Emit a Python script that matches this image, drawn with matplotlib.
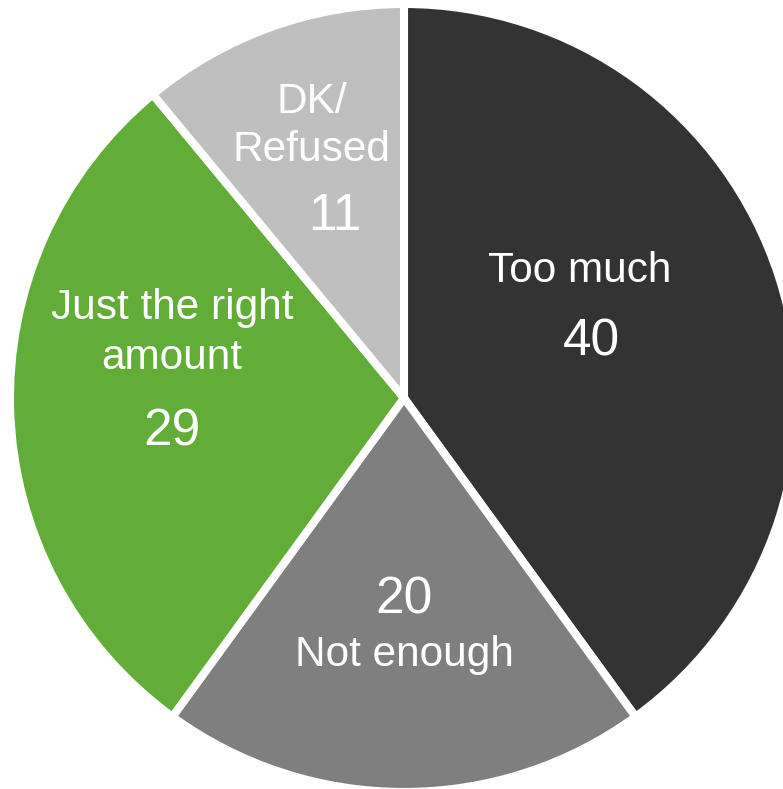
import matplotlib.pyplot as plt

plt.rcParams['font.family'] = ['Liberation Sans', 'DejaVu Sans']

# Data
categories = ["Too much", "Not enough", "Just the right\namount", "DK/\nRefused"]
values = [40, 20, 29, 11]
colors = ["#333333", "#7f7f7f", "#62ad38", "#bfbfbf"]

W, H = 783, 789
CX, CY, R = 404, 398, 394  # pie centre / radius in pixels


def px(x, y):
    # pixel position (from top-left) -> data coords of the pie
    return (x - CX) / R, (CY - y) / R


fig = plt.figure(figsize=(W / 100, H / 100), dpi=100)
ax = fig.add_axes([0, 0, 1, 1])
ax.pie(values, colors=colors, startangle=90, counterclock=False, radius=1,
       wedgeprops=dict(edgecolor="white", linewidth=5.8))
ax.set_xlim(-CX / R, (W - CX) / R)
ax.set_ylim(-(H - CY) / R, CY / R)
ax.set_aspect("equal")
ax.axis("off")

txt = dict(color="white", ha="center", va="center")
lab_fs, num_fs = 30.5, 37
# Too much
ax.text(*px(580, 271), categories[0], fontsize=lab_fs, **txt)
ax.text(*px(591, 342), str(values[0]), fontsize=num_fs, **txt)
# Not enough
ax.text(*px(404, 600), str(values[1]), fontsize=num_fs, **txt)
ax.text(*px(404, 655), categories[1], fontsize=lab_fs, **txt)
# Just the right amount
ax.text(*px(172, 333), categories[2], fontsize=lab_fs, linespacing=1.33, **txt)
ax.text(*px(172, 432), str(values[2]), fontsize=num_fs, **txt)
# DK/Refused
ax.text(*px(312, 126), categories[3], fontsize=lab_fs, linespacing=1.28, **txt)
ax.text(*px(335, 216), str(values[3]), fontsize=num_fs, **txt)

fig.savefig("out.png", dpi=100)
